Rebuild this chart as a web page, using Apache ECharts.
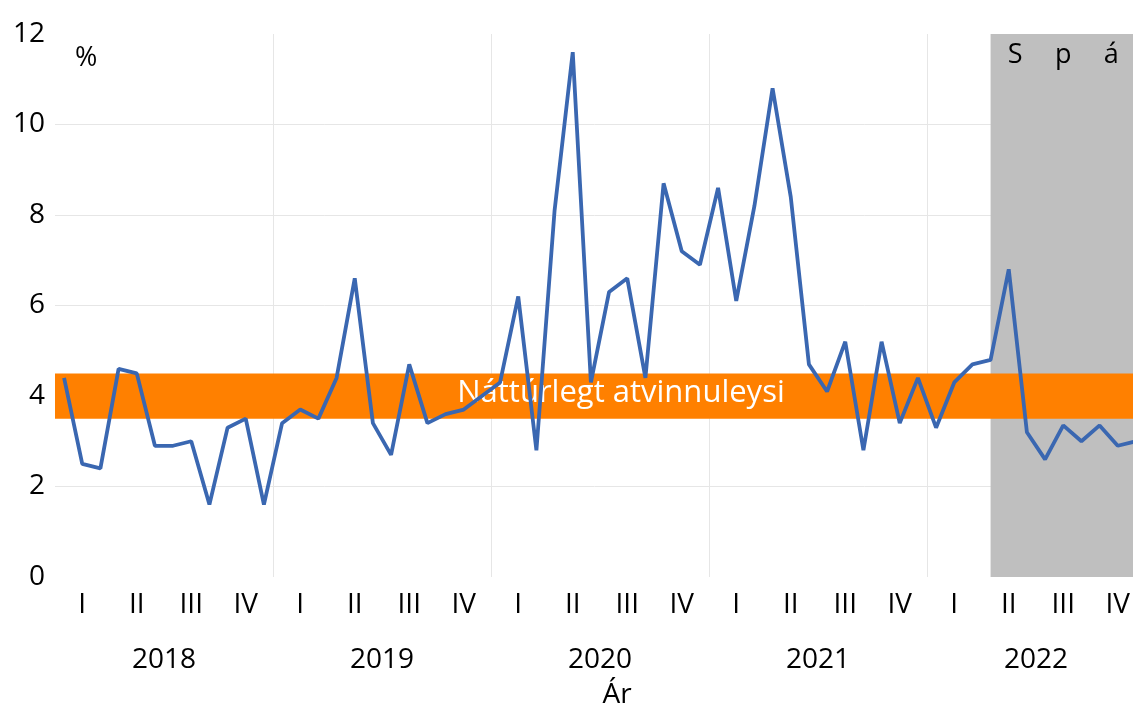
<!DOCTYPE html>
<html>
<head>
<meta charset="utf-8">
<script src="https://cdn.jsdelivr.net/npm/echarts@6/dist/echarts.min.js"></script>
<style>
  html, body { margin: 0; padding: 0; background: #fff; overflow: hidden; }
  #chart { width: 1133px; height: 709px; }
</style>
</head>
<body>
<div id="chart"></div>
<script>
// mánuðir 2018-2022
var years = ['2018', '2019', '2020', '2021', '2022'];
var quarters = ['I', 'II', 'III', 'IV'];
var months = [];
years.forEach(function (y) {
  for (var m = 1; m <= 12; m++) months.push(y + '-' + (m < 10 ? '0' + m : m));
});

// atvinnuleysi, %
var unemployment = [
  4.4, 2.5, 2.4, 4.6, 4.5, 2.9, 2.9, 3.0, 1.6, 3.3, 3.5, 1.6,
  3.4, 3.7, 3.5, 4.4, 6.6, 3.4, 2.7, 4.7, 3.4, 3.6, 3.7, 4.0,
  4.3, 6.2, 2.8, 8.1, 11.6, 4.3, 6.3, 6.6, 4.4, 8.7, 7.2, 6.9,
  8.6, 6.1, 8.2, 10.8, 8.4, 4.7, 4.1, 5.2, 2.8, 5.2, 3.4, 4.4,
  3.3, 4.3, 4.7, 4.8, 6.8, 3.2, 2.6, 3.35, 3.0, 3.35, 2.9, 3.0
];

var naturalRate = [3.5, 4.5];   // náttúrlegt atvinnuleysi
var forecastStart = 51;          // spá byrjar hér
var yTicks = [0, 12, 2];         // min, max, interval

var font = 'Open Sans';

var chart = echarts.init(document.getElementById('chart'));

var option = {
  backgroundColor: '#fff',
  animation: false,
  grid: { left: 55, right: -12, top: 34, bottom: 132, outerBoundsMode: 'none' },
  xAxis: [{
    type: 'category',
    data: months,
    boundaryGap: true,
    axisLine: { show: false },
    axisTick: { show: false },
    axisLabel: {
      interval: function (i) { return i % 3 === 1; },
      formatter: function (v, i) { return quarters[Math.floor((i % 12) / 3)]; },
      fontFamily: font, fontSize: 28, color: '#000', margin: 14
    },
    splitLine: {
      show: true,
      interval: function (i) { return i > 0 && i % 12 === 0; },
      lineStyle: { color: '#e6e6e6', width: 1 }
    }
  }, {
    type: 'value',
    position: 'bottom',
    offset: 55,
    min: 0, max: 60, interval: 6,
    axisLine: { show: false },
    axisTick: { show: false },
    splitLine: { show: false },
    axisLabel: {
      formatter: function (v) { return v % 12 === 6 ? years[(v - 6) / 12] : ''; },
      fontFamily: font, fontSize: 28, color: '#000', margin: 14
    },
    name: 'Ár',
    nameLocation: 'middle',
    nameGap: 49,
    nameTextStyle: { fontFamily: font, fontSize: 28, color: '#000', padding: [0, 0, 0, 34] }
  }],
  yAxis: {
    type: 'value',
    min: yTicks[0], max: yTicks[1], interval: yTicks[2],
    axisLine: { show: false },
    axisTick: { show: false },
    axisLabel: { fontFamily: font, fontSize: 28, color: '#000', margin: 10 },
    splitLine: {
      show: true, showMinLine: false, showMaxLine: false,
      lineStyle: { color: '#e6e6e6', width: 1 }
    },
    name: '%',
    nameLocation: 'end',
    nameGap: -24,
    nameTextStyle: { fontFamily: font, fontSize: 27, color: '#000', align: 'left', verticalAlign: 'middle', padding: [0, 0, 0, 20] }
  },
  series: [{
    type: 'line',
    data: unemployment,
    symbol: 'none',
    lineStyle: { color: '#3A67B1', width: 3.8 },
    markArea: {
      silent: true,
      data: [
        [{
          xAxis: months[forecastStart], yAxis: yTicks[1],
          itemStyle: { color: '#bfbfbf' },
          label: {
            show: true, position: 'insideTop', distance: 8,
            formatter: '{a|S}{a|p}{a|á}',
            rich: { a: { width: 48, align: 'center', fontFamily: font, fontSize: 27, color: '#000' } }
          }
        }, { xAxis: 'max', yAxis: yTicks[0] }],
        [{
          yAxis: naturalRate[0],
          itemStyle: { color: '#FF8000' },
          label: {
            show: true, position: 'inside', offset: [21, -3],
            formatter: 'Náttúrlegt atvinnuleysi',
            fontFamily: font, fontSize: 31, color: '#fff'
          }
        }, { yAxis: naturalRate[1] }]
      ]
    }
  }]
};

chart.setOption(option);
</script>
</body>
</html>
